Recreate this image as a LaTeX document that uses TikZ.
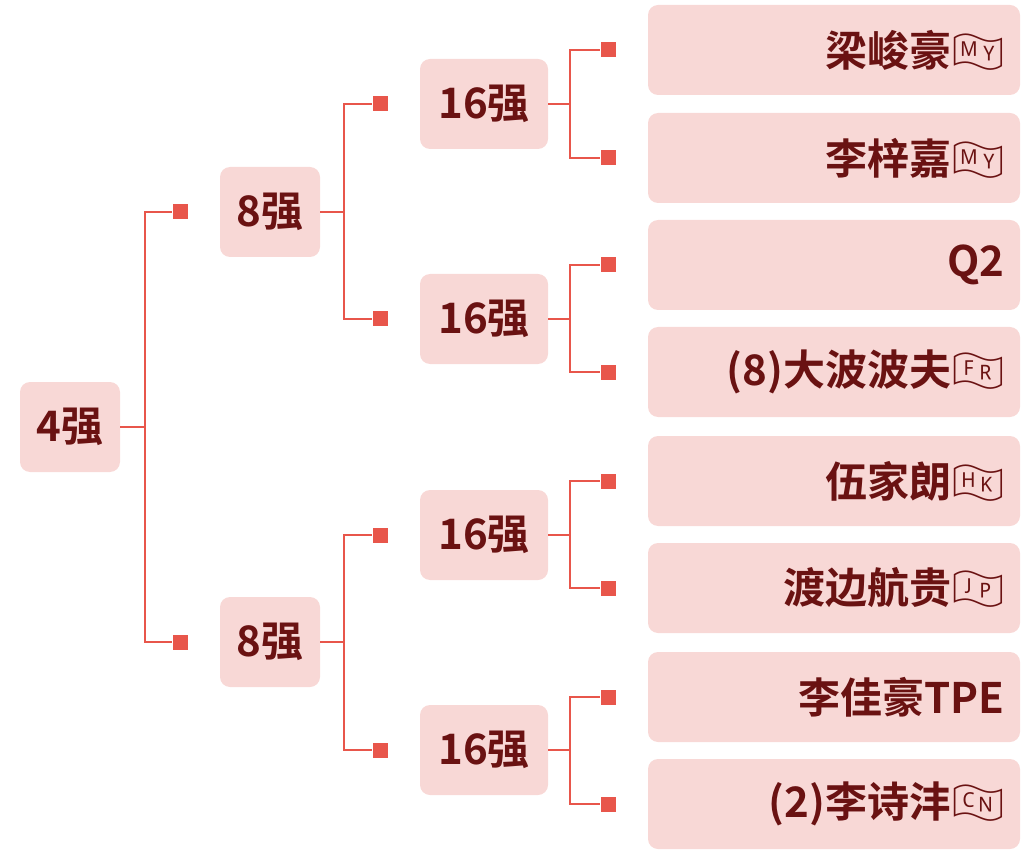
\documentclass[tikz,border=0pt]{standalone}
\usepackage{fontspec}
\setmainfont{Noto Sans CJK SC}[BoldFont={* Bold}]
\newfontfamily\emo{Noto Emoji}
\usetikzlibrary{positioning}
\definecolor{linered}{HTML}{E8564B}
\definecolor{boxpink}{HTML}{F8D8D6}
\definecolor{textred}{HTML}{6A1212}
\tikzset{
  roundbox/.style={fill=boxpink, rounded corners=10pt, inner sep=0pt},
  lbl/.style={text=textred, font=\bfseries\fontsize{42}{44}\selectfont},
  conn/.style={draw=linered, line width=2.8pt},
  tip/.style={fill=linered, minimum size=15pt, inner sep=0pt}
}
\begin{document}
\begin{tikzpicture}[x=1pt,y=-1pt]
\useasboundingbox (0,0) rectangle (1030,866);

% round nodes
\node[roundbox, minimum width=100pt, minimum height=90pt] (f) at (70,427) {};
\node[lbl] at (f) {4强};
\foreach \n/\y in {a/212, b/642} {
  \node[roundbox, minimum width=100pt, minimum height=90pt] (q\n) at (270,\y) {};
  \node[lbl] at (q\n) {8强};
  \node[tip] (t\n) at (180,\y) {};
  \draw[conn] (f.east) -- (145,427) |- (t\n.west);
}
\foreach \n/\y/\p in {a/104/a, b/319/a, c/535/b, d/750/b} {
  \node[roundbox, minimum width=128pt, minimum height=90pt] (s\n) at (484,\y) {};
  \node[lbl] at (s\n) {16强};
  \node[tip] (u\n) at (380,\y) {};
  \draw[conn] (q\p.east) -- (344,0 |- q\p) |- (u\n.west);
}
% players
\foreach \n/\y/\p/\name in {
  1/50/a/{梁峻豪{\emo 🇲🇾}},
  2/158/a/{李梓嘉{\emo 🇲🇾}},
  3/265/b/{Q2},
  4/372/b/{(8)大波波夫{\emo 🇫🇷}},
  5/481/c/{伍家朗{\emo 🇭🇰}},
  6/588/c/{渡边航贵{\emo 🇯🇵}},
  7/697/d/{李佳豪TPE},
  8/804/d/{(2)李诗沣{\emo 🇨🇳}}} {
  \node[roundbox, minimum width=372pt, minimum height=90pt] (p\n) at (834,\y) {};
  \node[lbl, anchor=east] at ([xshift=-12pt]p\n.east) {\name};
  \node[tip] (v\n) at (608,\y) {};
  \draw[conn] (s\p.east) -- (570,0 |- s\p) |- (v\n.west);
}
\end{tikzpicture}
\end{document}
